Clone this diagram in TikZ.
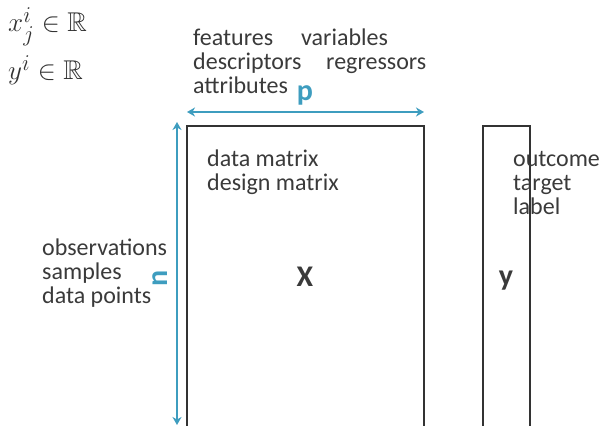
\documentclass[tikz,border=0pt]{standalone}
\usepackage{amsmath,amssymb}
\usepackage{fontspec}
\setmainfont{Carlito}
\usetikzlibrary{arrows.meta}
\definecolor{boxline}{HTML}{333333}
\definecolor{txt}{HTML}{3A3A3A}
\definecolor{dimline}{HTML}{3E9DBF}
\begin{document}
\begin{tikzpicture}[x=1pt,y=-1pt,
  lbl/.style={anchor=base west,inner sep=0pt,text=txt,font=\fontsize{24}{24}\selectfont},
  big/.style={inner sep=0pt,text=txt,font=\fontsize{30}{30}\selectfont\bfseries},
  dimlbl/.style={inner sep=0pt,text=dimline,font=\fontsize{30}{30}\selectfont\bfseries},
  frame/.style={draw=boxline,line width=2pt},
  dimarrow/.style={draw=dimline,line width=2pt,{Stealth[width=9pt,length=8pt,inset=2.5pt]}-{Stealth[width=9pt,length=8pt,inset=2.5pt]}},
  mathlbl/.style={anchor=base west,inner sep=0pt,text=black!80,scale=1.09,font=\fontsize{24.88}{27}\selectfont}]
\useasboundingbox (0,0) rectangle (604,425);

% matrix frames, open at the bottom
\draw[frame] (187,440) -- (187,126) -- (424,126) -- (424,440);
\draw[frame] (483,440) -- (483,126) -- (530,126) -- (530,440);

% dimension arrows
\coordinate (pL) at (187,112);
\coordinate (pR) at (424,112);
\coordinate (nT) at (177,122);
\coordinate (nB) at (177,425);
\draw[dimarrow] (pL) -- (pR);
\draw[dimarrow] (nT) -- (nB);

% notation
\node[mathlbl] (xij) at (8,32) {$x_j^i \in \mathbb{R}$};
\node[mathlbl] (yi) at (8,80) {$y^i \in \mathbb{R}$};

% column names
\node[lbl] (f1) at (193,46) {features};
\node[lbl] (f2) at (301,46) {variables};
\node[lbl] (f3) at (193,70) {descriptors};
\node[lbl] (f4) at (326,70) {regressors};
\node[lbl] (f5) at (193,94) {attributes};
\node[dimlbl,anchor=base] (p) at (305,101) {p};

% row names
\node[lbl] (r1) at (42,255) {observations};
\node[lbl] (r2) at (42,279) {samples};
\node[lbl] (r3) at (42,303) {data points};
\node[dimlbl,rotate=90] (n) at (160,278) {n};

% matrix names
\node[lbl] (m1) at (207,166) {data matrix};
\node[lbl] (m2) at (207,190) {design matrix};
\node[big] (X) at (305,277) {X};
\node[big] (y) at (506,281) {y};
\node[lbl] (o1) at (513,166) {outcome};
\node[lbl] (o2) at (513,190) {target};
\node[lbl] (o3) at (513,214) {label};
\end{tikzpicture}
\end{document}
